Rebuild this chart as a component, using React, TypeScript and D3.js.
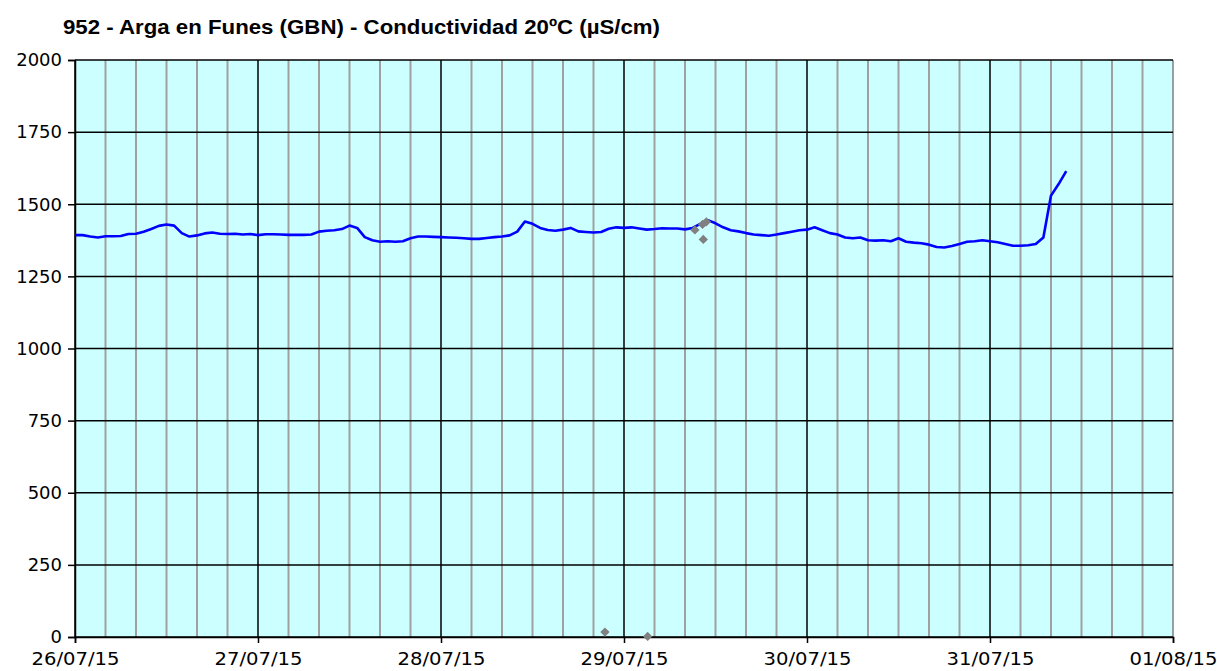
import React, { useEffect, useRef } from "react";
import * as d3 from "d3";

const TITLE = "952 - Arga en Funes (GBN) - Conductividad 20ºC (µS/cm)";
const START = new Date(2015, 6, 26, 0, 0);
const END = new Date(2015, 7, 1, 0, 0);
const Y_TICKS = [0, 250, 500, 750, 1000, 1250, 1500, 1750, 2000];

// hourly readings from 26/07/15 00:00
const conductivity = [
  1393, 1393, 1388, 1385, 1389, 1389, 1390, 1397, 1398, 1405, 1414, 1425,
  1430, 1426, 1400, 1388, 1392, 1399, 1402, 1398, 1397, 1398, 1395, 1397,
  1393, 1396, 1396, 1395, 1394, 1394, 1394, 1395, 1405, 1408, 1410, 1414,
  1426, 1418, 1386, 1375, 1370, 1372, 1370, 1372, 1382, 1388, 1388, 1387,
  1386, 1385, 1384, 1382, 1380, 1380, 1383, 1386, 1388, 1392, 1405, 1440,
  1432, 1418, 1411, 1408, 1412, 1418, 1406, 1404, 1402, 1404, 1415, 1420,
  1418, 1420, 1416, 1412, 1414, 1417, 1416, 1416, 1413, 1418, 1432, 1445,
  1434, 1420, 1410, 1406, 1400, 1395, 1393, 1391, 1395, 1400, 1405, 1410,
  1412, 1420, 1410, 1400, 1395, 1385, 1382, 1385, 1375, 1374, 1375, 1372,
  1382, 1370, 1367, 1365, 1360, 1352, 1350, 1355, 1362, 1370, 1372, 1375,
  1372, 1368, 1362, 1356, 1356, 1358, 1362, 1385, 1530, 1570, 1615,
];

// rejected readings (grey diamonds), hours from start
const rejectedHours = [69.5, 75.1, 81.3, 82.3, 82.8, 82.4];
const rejectedValues = [17, 2, 1411, 1430, 1439, 1378];

const W = 1217;
const H = 671;
const M = { left: 75, right: 1173, top: 60, bottom: 637 };

export default function App() {
  const ref = useRef<SVGSVGElement>(null);

  useEffect(() => {
    const svg = d3.select(ref.current);
    svg.selectAll("*").remove();

    const x = d3.scaleTime().domain([START, END]).range([M.left, M.right]);
    const y = d3.scaleLinear().domain([0, 2000]).range([M.bottom, M.top]);
    const hourDate = (h: number) => new Date(START.getTime() + h * 3600000);

    svg
      .append("rect")
      .attr("x", M.left)
      .attr("y", M.top)
      .attr("width", M.right - M.left)
      .attr("height", M.bottom - M.top)
      .attr("fill", "#ccffff");

    // vertical grid every 4 hours, black at midnight
    const minor = d3.timeHour.every(4)!.range(START, d3.timeHour.offset(END, 1));
    svg
      .append("g")
      .selectAll("line")
      .data(minor.filter((d) => d.getHours() !== 0))
      .join("line")
      .attr("x1", (d) => x(d))
      .attr("x2", (d) => x(d))
      .attr("y1", M.top)
      .attr("y2", M.bottom)
      .attr("stroke", "#a0a0a0")
      .attr("stroke-width", 2);

    const days = d3.timeDay.range(START, d3.timeDay.offset(END, 1));
    svg
      .append("g")
      .selectAll("line")
      .data(days)
      .join("line")
      .attr("x1", (d) => x(d))
      .attr("x2", (d) => x(d))
      .attr("y1", M.top)
      .attr("y2", M.bottom)
      .attr("stroke", (d) => (+d === +END ? "#808080" : "#000"))
      .attr("stroke-width", 1.5);

    svg
      .append("g")
      .selectAll("line")
      .data(Y_TICKS)
      .join("line")
      .attr("x1", M.left)
      .attr("x2", M.right)
      .attr("y1", (d) => y(d))
      .attr("y2", (d) => y(d))
      .attr("stroke", "#000")
      .attr("stroke-width", 1.5);

    // axes
    const yAxis = svg
      .append("g")
      .attr("transform", `translate(${M.left},0)`)
      .call(d3.axisLeft(y).tickValues(Y_TICKS).tickSize(7).tickPadding(6).tickFormat(d3.format("d")));
    const xAxis = svg
      .append("g")
      .attr("transform", `translate(0,${M.bottom})`)
      .call(
        d3
          .axisBottom(x)
          .tickValues(days)
          .tickSize(6)
          .tickPadding(9)
          .tickFormat((d) => d3.timeFormat("%d/%m/%y")(d as Date))
      );
    [yAxis, xAxis].forEach((g) => {
      g.select(".domain").attr("stroke", "#000").attr("stroke-width", 1.5);
      g.selectAll(".tick line").attr("stroke", "#000").attr("stroke-width", 1.5);
      g.selectAll("text")
        .attr("fill", "#000")
        .style("font-family", "'DejaVu Sans', Verdana, sans-serif")
        .style("font-size", "18px");
    });
    xAxis.selectAll("text").attr("textLength", 88).attr("lengthAdjust", "spacingAndGlyphs");

    // main series
    const line = d3
      .line<number>()
      .x((_, i) => x(hourDate(i)))
      .y((d) => y(d));
    svg
      .append("path")
      .datum(conductivity)
      .attr("d", line)
      .attr("fill", "none")
      .attr("stroke", "#0000ff")
      .attr("stroke-width", 2.6)
      .attr("stroke-linejoin", "round");

    const diamond = d3.symbol().type(d3.symbolDiamond2).size(55);
    svg
      .append("g")
      .selectAll("path")
      .data(rejectedHours)
      .join("path")
      .attr("d", diamond)
      .attr("transform", (h, i) => `translate(${x(hourDate(h))},${y(rejectedValues[i])})`)
      .attr("fill", "#808080");

    svg
      .append("text")
      .attr("x", 63)
      .attr("y", 34)
      .attr("textLength", 597)
      .attr("lengthAdjust", "spacingAndGlyphs")
      .style("font-family", "'Liberation Sans', Arial, sans-serif")
      .style("font-weight", "bold")
      .style("font-size", "21px")
      .text(TITLE);
  }, []);

  return (
    <svg
      ref={ref}
      width={W}
      height={H}
      style={{ position: "absolute", left: 0, top: 0, background: "#fff" }}
    />
  );
}
